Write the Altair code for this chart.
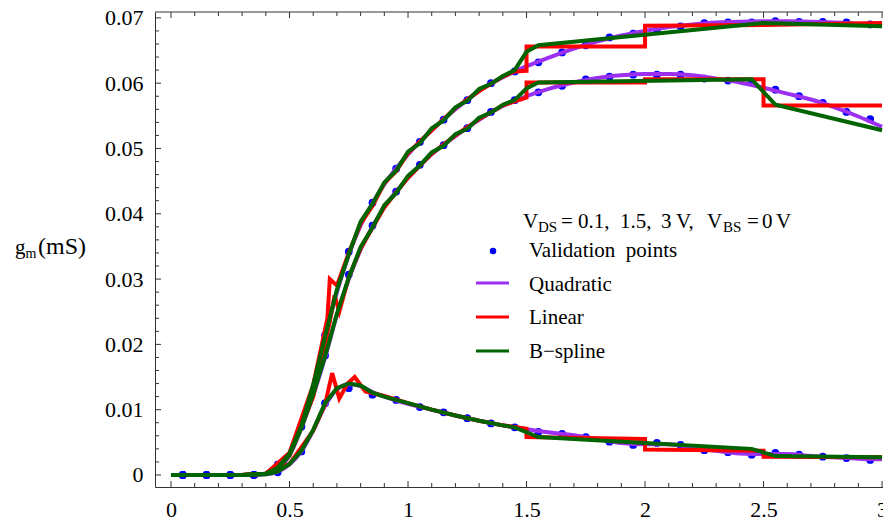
import altair as alt
import pandas as pd

# ---------------------------------------------------------------------------
# Transconductance g_m versus V_GS for V_DS = 0.1, 1.5 and 3 V (V_BS = 0 V)
# ---------------------------------------------------------------------------

# Validation points (V_GS in volts, g_m in mS)
VGS_PTS = [0.05, 0.15, 0.25, 0.35, 0.45, 0.55, 0.65, 0.75, 0.85, 0.95,
           1.05, 1.15, 1.25, 1.35, 1.45, 1.55, 1.65, 1.75, 1.85, 1.95,
           2.05, 2.15, 2.25, 2.35, 2.45, 2.55, 2.65, 2.75, 2.85, 2.95]
GM_PTS_VDS01 = [0, 0, 0, 0, 0.0004, 0.0036, 0.0110, 0.0133, 0.0123, 0.0115,
                0.0104, 0.0096, 0.0087, 0.0079, 0.0073, 0.0066, 0.0063, 0.0058, 0.0051, 0.0046,
                0.0049, 0.0046, 0.0038, 0.0035, 0.0031, 0.0034, 0.0031, 0.0028, 0.0026, 0.0023]
GM_PTS_VDS15 = [0, 0, 0, 0, 0.0014, 0.0074, 0.0183, 0.0307, 0.0382, 0.0434,
                0.0475, 0.0505, 0.0531, 0.0556, 0.0574, 0.0586, 0.0596, 0.0606, 0.0610, 0.0613,
                0.0613, 0.0613, 0.0607, 0.0604, 0.0601, 0.0590, 0.0580, 0.0570, 0.0556, 0.0545]
GM_PTS_VDS30 = [0, 0, 0, 0, 0.0016, 0.0076, 0.0214, 0.0342, 0.0417, 0.0469,
                0.0510, 0.0544, 0.0574, 0.0600, 0.0618, 0.0632, 0.0647, 0.0658, 0.0670, 0.0676,
                0.0682, 0.0687, 0.0692, 0.0693, 0.0693, 0.0695, 0.0694, 0.0694, 0.0693, 0.0690]

# Quadratic interpolation model
QUAD_X = [0, 0.1, 0.2, 0.3, 0.4, 0.45, 0.5, 0.55, 0.6, 0.65, 0.7, 0.75, 0.8, 0.85, 0.9,
          1.0, 1.1, 1.2, 1.3, 1.4, 1.5, 1.6, 1.7, 1.8, 1.9, 2.0,
          2.1, 2.2, 2.3, 2.4, 2.5, 2.6, 2.7, 2.8, 2.9, 3.0]
QUAD_VDS01 = [0, 0, 0, 0, 0.0001, 0.0005, 0.0016, 0.0036, 0.0068, 0.0106, 0.0131, 0.0139, 0.0136,
              0.0127, 0.0120, 0.0109, 0.0100, 0.0091, 0.0083, 0.0076, 0.0070, 0.0065, 0.0061,
              0.0055, 0.0049, 0.0047, 0.0047, 0.0042, 0.0037, 0.0033, 0.0032, 0.0032, 0.0029,
              0.0027, 0.0025, 0.0024]
QUAD_VDS15 = [0, 0, 0, 0, 0.0002, 0.0010, 0.0030, 0.0072, 0.0122, 0.0180, 0.0245, 0.0300, 0.0345,
              0.0380, 0.0410, 0.0455, 0.0491, 0.0519, 0.0544, 0.0565, 0.0580, 0.0592, 0.0601,
              0.0608, 0.0612, 0.0614, 0.0614, 0.0612, 0.0607, 0.0601, 0.0593, 0.0584, 0.0575,
              0.0563, 0.0549, 0.0533]
QUAD_VDS30 = [0, 0, 0, 0, 0.0002, 0.0011, 0.0033, 0.0075, 0.0135, 0.0210, 0.0280, 0.0337, 0.0382,
              0.0416, 0.0445, 0.0491, 0.0528, 0.0560, 0.0588, 0.0609, 0.0626, 0.0640, 0.0653,
              0.0664, 0.0673, 0.0680, 0.0686, 0.0690, 0.0693, 0.0694, 0.0695, 0.0695, 0.0694,
              0.0693, 0.0691, 0.0688]

# Piecewise-linear model (jumps at the cell borders 1.5, 2.0 and 2.5 V)
LIN_X_VDS01 = [0, 0.3, 0.4, 0.5, 0.6, 0.65, 0.68, 0.71, 0.745, 0.775, 0.82, 0.9, 1.0, 1.1,
               1.2, 1.3, 1.4, 1.5, 1.5, 2.0, 2.0, 2.5, 2.5, 3.0]
LIN_VDS01 = [0, 0, 0.0002, 0.0017, 0.0068, 0.0108, 0.0156, 0.0117, 0.0140, 0.0150, 0.0128,
             0.0121, 0.0110, 0.0100, 0.0091, 0.0083, 0.0076, 0.0071, 0.0058, 0.0055, 0.0039,
             0.0037, 0.0028, 0.0027]
LIN_X_VDS15 = [0, 0.3, 0.4, 0.5, 0.6, 0.67, 0.69, 0.71, 0.75, 0.8, 0.9, 1.0, 1.1, 1.2, 1.3,
               1.4, 1.5, 1.5, 2.0, 2.0, 2.5, 2.5, 3.0]
LIN_VDS15 = [0, 0, 0.0002, 0.0030, 0.0120, 0.0235, 0.0275, 0.0250, 0.0303, 0.0347, 0.0410,
             0.0455, 0.0492, 0.0520, 0.0545, 0.0566, 0.0578, 0.0601, 0.0601, 0.0606, 0.0606,
             0.0566, 0.0566]
LIN_X_VDS30 = [0, 0.3, 0.4, 0.5, 0.6, 0.66, 0.67, 0.70, 0.75, 0.8, 0.85, 0.9, 0.95, 1.0, 1.1,
               1.2, 1.3, 1.4, 1.45, 1.5, 1.5, 2.0, 2.0, 2.5, 3.0]
LIN_VDS30 = [0, 0, 0.0002, 0.0034, 0.0138, 0.0240, 0.0300, 0.0290, 0.0340, 0.0385, 0.0412,
             0.0447, 0.0465, 0.0493, 0.0528, 0.0562, 0.0588, 0.0610, 0.0618, 0.0619, 0.0656,
             0.0656, 0.0688, 0.0689, 0.0692]

# B-spline model
BSP_X_VDS01 = [0, 0.3, 0.4, 0.45, 0.5, 0.55, 0.6, 0.65, 0.7, 0.75, 0.8, 0.85, 0.9, 1.0, 1.1,
               1.2, 1.3, 1.4, 1.45, 1.55, 2.0, 2.45, 2.55, 3.0]
BSP_VDS01 = [0, 0, 0.0001, 0.0005, 0.0017, 0.0037, 0.0069, 0.0110, 0.0133, 0.0140, 0.0137,
             0.0126, 0.0120, 0.0110, 0.0100, 0.0091, 0.0083, 0.0076, 0.0073, 0.0058, 0.0049,
             0.0040, 0.0029, 0.0027]
BSP_X_VDS15 = [0, 0.3, 0.4, 0.45, 0.5, 0.55, 0.6, 0.65, 0.7, 0.75, 0.8, 0.85, 0.9, 0.95, 1.0,
               1.05, 1.1, 1.15, 1.2, 1.25, 1.3, 1.35, 1.4, 1.45, 1.5, 1.55, 2.45, 2.55, 3.0]
BSP_VDS15 = [0, 0, 0.0002, 0.0010, 0.0030, 0.0072, 0.0124, 0.0182, 0.0247, 0.0302, 0.0349,
             0.0379, 0.0413, 0.0432, 0.0458, 0.0474, 0.0494, 0.0504, 0.0522, 0.0530, 0.0547,
             0.0555, 0.0567, 0.0574, 0.0592, 0.0601, 0.0606, 0.0567, 0.0528]
BSP_X_VDS30 = [0, 0.3, 0.4, 0.45, 0.5, 0.55, 0.6, 0.65, 0.7, 0.75, 0.8, 0.85, 0.9, 0.95, 1.0,
               1.05, 1.1, 1.15, 1.2, 1.25, 1.3, 1.35, 1.4, 1.45, 1.5, 1.55, 2.5, 3.0]
BSP_VDS30 = [0, 0, 0.0002, 0.0011, 0.0033, 0.0075, 0.0138, 0.0212, 0.0284, 0.0338, 0.0388,
             0.0415, 0.0448, 0.0466, 0.0495, 0.0508, 0.0531, 0.0543, 0.0563, 0.0573, 0.0591,
             0.0599, 0.0611, 0.0620, 0.0648, 0.0658, 0.0692, 0.0687]

# Axis ticks
X_MAJOR = [0, 0.5, 1, 1.5, 2, 2.5, 3]
X_MINOR = [round(i * 0.1, 1) for i in range(31) if i % 5 != 0]
Y_MAJOR = [0, 0.01, 0.02, 0.03, 0.04, 0.05, 0.06, 0.07]
Y_MINOR = [round(i * 0.002, 3) for i in range(36) if i % 5 != 0]

LEGEND_LABELS = ["Validation\u00a0 points", "Quadratic", "Linear", "B\u2212spline"]

# ---------------------------------------------------------------------------
FONT = "Liberation Serif"
W, H = 728, 475
BLUE, PURPLE, RED, GREEN = "#0000FF", "#9B30F0", "#FF0000", "#006400"
AXIS_COLOR = "#333333"

x_scale = alt.Scale(domain=[-0.0675, 3.004], nice=False, zero=False)
y_scale = alt.Scale(domain=[-0.00184, 0.0709], nice=False, zero=False)

x_axis = alt.Axis(values=X_MAJOR, format="~g", title=None, ticks=False, tickSize=0,
                  grid=False, domainColor=AXIS_COLOR, labelFont=FONT, labelFontSize=22,
                  labelColor="black", labelPadding=12, labelFlush=False, labelOverlap=False)
y_axis = alt.Axis(values=Y_MAJOR, format="~g", title=None, ticks=False, tickSize=0,
                  grid=False, domainColor=AXIS_COLOR, labelFont=FONT, labelFontSize=22,
                  labelColor="black", labelPadding=12, labelFlush=False, labelOverlap=False)

X = alt.X("vgs:Q", scale=x_scale, axis=x_axis)
Y = alt.Y("gm:Q", scale=y_scale, axis=y_axis)


def series(xs, ys, curve):
    return pd.DataFrame({"vgs": xs, "gm": ys, "curve": curve, "seq": range(len(xs))})


def family(a, b, c):
    return pd.concat([series(*a, "0.1"), series(*b, "1.5"), series(*c, "3")],
                     ignore_index=True)


pts_df = family((VGS_PTS, GM_PTS_VDS01), (VGS_PTS, GM_PTS_VDS15), (VGS_PTS, GM_PTS_VDS30))
quad_df = family((QUAD_X, QUAD_VDS01), (QUAD_X, QUAD_VDS15), (QUAD_X, QUAD_VDS30))
lin_df = family((LIN_X_VDS01, LIN_VDS01), (LIN_X_VDS15, LIN_VDS15), (LIN_X_VDS30, LIN_VDS30))
bsp_df = family((BSP_X_VDS01, BSP_VDS01), (BSP_X_VDS15, BSP_VDS15), (BSP_X_VDS30, BSP_VDS30))

points = alt.Chart(pts_df).mark_circle(size=60, color=BLUE, opacity=1).encode(x=X, y=Y)


def model_line(df, color, interp):
    return alt.Chart(df).mark_line(color=color, strokeWidth=4, interpolate=interp).encode(
        x=X, y=Y, detail="curve:N", order="seq:Q")


quad_line = model_line(quad_df, PURPLE, "monotone")
lin_line = model_line(lin_df, RED, "linear")
bsp_line = model_line(bsp_df, GREEN, "linear")


# Inward-pointing frame ticks
def x_ticks(vals, y0, y1):
    return alt.Chart(pd.DataFrame({"vgs": vals})).mark_rule(
        color=AXIS_COLOR, strokeWidth=1).encode(x=X, y=alt.value(y0), y2=alt.value(y1))


def y_ticks(vals, length):
    return alt.Chart(pd.DataFrame({"gm": vals})).mark_rule(
        color=AXIS_COLOR, strokeWidth=1).encode(y=Y, x=alt.value(0), x2=alt.value(length))


tick_layers = [
    x_ticks(X_MAJOR, H, H - 6), x_ticks(X_MINOR, H, H - 4),
    x_ticks(X_MAJOR, 0, 6), x_ticks(X_MINOR, 0, 4),
    y_ticks(Y_MAJOR, 6), y_ticks(Y_MINOR, 4),
]

one = pd.DataFrame({"k": [0]})
top_frame = alt.Chart(one).mark_rule(color=AXIS_COLOR, strokeWidth=1).encode(
    x=alt.value(0), x2=alt.value(W), y=alt.value(0))


def label(txt, x, y, size=21):
    return alt.Chart(pd.DataFrame({"t": [txt]})).mark_text(
        font=FONT, fontSize=size, color="black", align="left", baseline="alphabetic"
    ).encode(text="t:N", x=alt.value(x), y=alt.value(y))


# y-axis title: g_m (mS)
ytitle = [label("g", -140, 242, 21), label("m", -129.5, 246, 14), label("(mS)", -117, 242, 24)]

# Condition line: V_DS = 0.1, 1.5, 3 V, V_BS = 0 V
cond = [label("V", 368, 216), label("DS", 383, 220, 15),
        label("=", 406, 216), label("0.1,", 423, 216), label("1.5,", 465, 216),
        label("3", 506, 216), label("V,", 521, 216), label("V", 552, 216),
        label("BS", 568, 220, 15),
        label("=", 592, 216), label("0", 607, 216), label("V", 621, 216)]

# Legend
leg_dot = alt.Chart(one).mark_circle(size=42, color=BLUE, opacity=1).encode(
    x=alt.value(338), y=alt.value(239))
leg_lines = [
    alt.Chart(one).mark_rule(color=c, strokeWidth=3).encode(
        x=alt.value(321), x2=alt.value(354), y=alt.value(yy))
    for c, yy in [(PURPLE, 271), (RED, 305), (GREEN, 339)]
]
leg_text = [label(t, 374, yy) for t, yy in zip(LEGEND_LABELS, [245, 278.5, 312, 345.5])]

chart = alt.layer(
    points, quad_line, lin_line, bsp_line, *tick_layers, top_frame,
    *ytitle, *cond, leg_dot, *leg_lines, *leg_text,
).properties(
    width=W, height=H,
    autosize=alt.AutoSizeParams(type="none"),
    padding={"left": 155, "top": 12, "right": 0, "bottom": 33},
    background="white",
).configure_view(strokeWidth=0)

chart.save("out.html", embed_options={"renderer": "svg", "actions": False})
